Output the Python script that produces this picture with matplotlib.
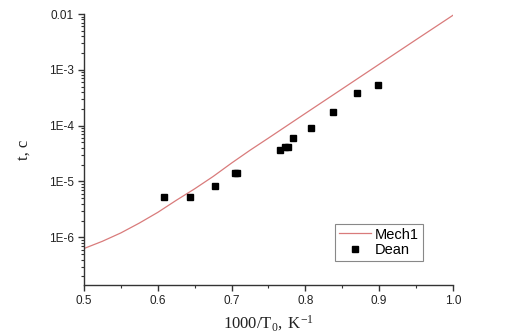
import matplotlib
matplotlib.use("Agg")
import matplotlib.pyplot as plt
from matplotlib.ticker import FixedLocator, LogLocator, NullFormatter, FuncFormatter, MultipleLocator

plt.rcParams["font.family"] = ["Liberation Sans", "DejaVu Sans"]
plt.rcParams["mathtext.fontset"] = "custom"
plt.rcParams["mathtext.rm"] = "Liberation Serif"
plt.rcParams["mathtext.it"] = "Liberation Serif:italic"

# Mech1 model curve: ignition delay vs 1000/T0
mech_x = [0.5, 0.525, 0.55, 0.575, 0.6, 0.625, 0.65, 0.675, 0.7, 0.725,
          0.75, 0.8, 0.85, 0.9, 0.95, 1.0]
mech_t = [6.3e-7, 8.5e-7, 1.2e-6, 1.8e-6, 2.8e-6, 4.6e-6, 7.4e-6, 1.23e-5,
          2.14e-5, 3.63e-5, 6.0e-5, 1.66e-4, 4.57e-4, 1.26e-3, 3.47e-3, 9.5e-3]

# Dean experimental data
dean_x = [0.609, 0.644, 0.678, 0.704, 0.708, 0.766, 0.772, 0.776, 0.783,
          0.807, 0.837, 0.870, 0.899]
dean_t = [5.3e-6, 5.3e-6, 8.3e-6, 1.4e-5, 1.4e-5, 3.66e-5, 4.2e-5, 4.2e-5,
          6.1e-5, 9.1e-5, 1.75e-4, 3.9e-4, 5.4e-4]

x_ticks = [0.5, 0.6, 0.7, 0.8, 0.9, 1.0]
y_ticks = [1e-6, 1e-5, 1e-4, 1e-3, 1e-2]
y_tick_labels = ["1E-6", "1E-5", "1E-4", "1E-3", "0.01"]

fig = plt.figure(figsize=(5.05, 3.36), dpi=100)
ax = fig.add_axes([0.1663, 0.1518, 0.7307, 0.8065])

ax.plot(mech_x, mech_t, color="#d97b7b", lw=0.9, label="Mech1")
ax.plot(dean_x, dean_t, ls="none", marker="s", ms=5, color="black", label="Dean")

ax.set_yscale("log")
ax.set_xlim(0.5, 1.0)
ax.set_ylim(1.4e-7, 1e-2)

ax.xaxis.set_major_locator(FixedLocator(x_ticks))
ax.xaxis.set_minor_locator(MultipleLocator(0.05))
ax.xaxis.set_major_formatter(FuncFormatter(lambda v, p: f"{v:.1f}"))

ax.yaxis.set_major_locator(FixedLocator(y_ticks))
ax.yaxis.set_major_formatter(FuncFormatter(
    lambda v, p: dict(zip(y_ticks, y_tick_labels)).get(
        min(y_ticks, key=lambda t: abs(t - v) / t), "")))
ax.yaxis.set_minor_locator(LogLocator(base=10, subs=range(2, 10), numticks=20))
ax.yaxis.set_minor_formatter(NullFormatter())

for s in ("top", "right"):
    ax.spines[s].set_visible(False)
for s in ("left", "bottom"):
    ax.spines[s].set_linewidth(1.0)
    ax.spines[s].set_color("#333333")

ax.tick_params(which="major", direction="out", length=4, width=1.0,
               labelsize=8.5, colors="#333333", labelcolor="#222222")
ax.tick_params(which="minor", direction="out", length=2.5, width=0.8,
               colors="#333333")

ax.set_xlabel(r"$\mathrm{1000/T_0,\ K^{-1}}$", fontsize=12, labelpad=4,
              color="#222222")
ax.set_ylabel("t, c", family="Liberation Serif", fontsize=12, labelpad=12,
              color="#222222")

leg = ax.legend(loc="lower right", bbox_to_anchor=(0.918, 0.09), fontsize=10.5,
                frameon=True, fancybox=False, framealpha=1, edgecolor="#888888",
                handlelength=2.2, borderpad=0.25, labelspacing=0.1,
                handletextpad=0.3, borderaxespad=0, markerscale=0.8)
leg.get_frame().set_linewidth(0.8)

fig.savefig("out.png", dpi=100)
